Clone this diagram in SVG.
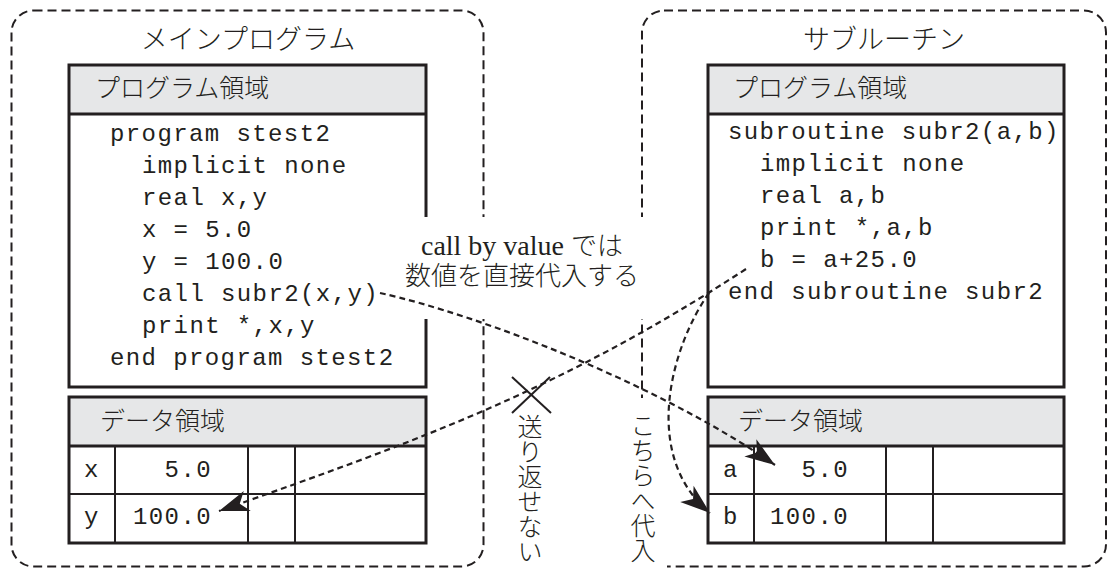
<svg xmlns="http://www.w3.org/2000/svg" width="1108" height="570" viewBox="0 0 1108 570">
<style>
.outer{fill:none;stroke:#231f20;stroke-width:2;stroke-dasharray:9 5}
.box{fill:none;stroke:#231f20;stroke-width:3}
.hdr{fill:#e6e7e8;stroke:none}
.thick{stroke:#231f20;stroke-width:3}
.thin{stroke:#231f20;stroke-width:2}
.jp{font-family:"Noto Sans CJK JP","Noto Sans",sans-serif;font-weight:300;fill:#231f20}
.title{font-size:27px;text-anchor:middle}
.hd{font-size:25px}
.code{font-family:"Liberation Mono","Courier New",monospace;font-size:24px;letter-spacing:1.4px;fill:#231f20}
.conn{fill:none;stroke:#231f20;stroke-width:2.2;stroke-dasharray:6 4}
.vert{font-size:25px;writing-mode:vertical-rl;text-orientation:upright}
</style>
<defs>
<marker id="arrow" markerUnits="userSpaceOnUse" viewBox="-32 -12 34 24" refX="0" refY="0" markerWidth="34" markerHeight="24" orient="auto">
<path d="M0,0 L-30,-10.5 L-22,0 L-30,10.5 Z" fill="#231f20"/>
</marker>
</defs>
<rect width="1108" height="570" fill="#ffffff"/>

<g id="main-program">
<rect class="outer" x="11.5" y="10.5" width="472" height="556" rx="22"/>
<text class="jp title" x="248" y="49">メインプログラム</text>
</g>
<g id="subroutine">
<rect class="outer" x="642" y="10.5" width="464" height="556" rx="22"/>
<text class="jp title" x="884" y="49">サブルーチン</text>
</g>

<g id="main-program-area">
<rect class="hdr" x="69" y="65" width="357" height="49"/>
<line class="thick" x1="69" y1="114" x2="426" y2="114"/>
<rect class="box" x="69" y="65" width="357" height="322"/>
<text class="jp hd" x="95" y="97">プログラム領域</text>
<text class="code" x="110" y="141">program stest2</text>
<text class="code" x="142" y="173">implicit none</text>
<text class="code" x="142" y="205">real x,y</text>
<text class="code" x="142" y="237">x = 5.0</text>
<text class="code" x="142" y="269">y = 100.0</text>
<text class="code" x="142" y="301">call subr2(x,y)</text>
<text class="code" x="142" y="333">print *,x,y</text>
<text class="code" x="110" y="365">end program stest2</text>
</g>

<g id="main-data-area">
<rect class="hdr" x="69" y="397" width="357" height="49"/>
<line class="thick" x1="69" y1="446" x2="426" y2="446"/>
<line class="thin" x1="69" y1="494" x2="426" y2="494"/>
<line class="thin" x1="115" y1="446" x2="115" y2="543"/>
<line class="thin" x1="248" y1="446" x2="248" y2="543"/>
<line class="thin" x1="295" y1="446" x2="295" y2="543"/>
<rect class="box" x="69" y="397" width="357" height="146"/>
<text class="jp hd" x="100" y="430">データ領域</text>
<text class="code" x="92" y="477" text-anchor="middle">x</text>
<text class="code" x="212" y="477" text-anchor="end">5.0</text>
<text class="code" x="92" y="524" text-anchor="middle">y</text>
<text class="code" x="212" y="524" text-anchor="end">100.0</text>
</g>

<g id="sub-program-area">
<rect class="hdr" x="708" y="65" width="356" height="49"/>
<line class="thick" x1="708" y1="114" x2="1064" y2="114"/>
<rect class="box" x="708" y="65" width="356" height="322"/>
<text class="jp hd" x="733" y="97">プログラム領域</text>
<text class="code" x="728" y="139">subroutine subr2(a,b)</text>
<text class="code" x="760" y="171">implicit none</text>
<text class="code" x="760" y="203">real a,b</text>
<text class="code" x="760" y="235">print *,a,b</text>
<text class="code" x="760" y="267">b = a+25.0</text>
<text class="code" x="728" y="299">end subroutine subr2</text>
</g>

<g id="sub-data-area">
<rect class="hdr" x="708" y="397" width="356" height="49"/>
<line class="thick" x1="708" y1="446" x2="1064" y2="446"/>
<line class="thin" x1="708" y1="494" x2="1064" y2="494"/>
<line class="thin" x1="754" y1="446" x2="754" y2="543"/>
<line class="thin" x1="886" y1="446" x2="886" y2="543"/>
<line class="thin" x1="933" y1="446" x2="933" y2="543"/>
<rect class="box" x="708" y="397" width="356" height="146"/>
<text class="jp hd" x="738" y="430">データ領域</text>
<text class="code" x="731" y="477" text-anchor="middle">a</text>
<text class="code" x="849" y="477" text-anchor="end">5.0</text>
<text class="code" x="731" y="524" text-anchor="middle">b</text>
<text class="code" x="849" y="524" text-anchor="end">100.0</text>
</g>

<g id="label-backgrounds">
<rect x="405" y="217" width="250" height="102" fill="#ffffff"/>
<rect x="627" y="398" width="40" height="172" fill="#ffffff"/>
</g>

<g id="connectors">
<path class="conn" d="M380,293 C480,315 660,385 775,465" marker-end="url(#arrow)"/>
<path class="conn" d="M746,269 C560,390 420,440 219,511" marker-end="url(#arrow)"/>
<path class="conn" d="M709,293 C672,345 640,455 710,513" marker-end="url(#arrow)"/>
<g id="no-return-mark" stroke="#231f20" stroke-width="2">
<line x1="512" y1="377" x2="551" y2="413"/>
<line x1="550" y1="377" x2="512" y2="413"/>
</g>
</g>

<g id="call-by-value-label">
<text x="522" y="255" text-anchor="middle" fill="#231f20"><tspan font-family="Liberation Serif, serif" font-size="28">call by value </tspan><tspan font-family="Noto Sans CJK JP, sans-serif" font-weight="300" font-size="26">では</tspan><tspan x="522" dy="30" font-family="Noto Sans CJK JP, sans-serif" font-weight="300" font-size="26">数値を直接代入する</tspan></text>
</g>
<g id="no-return-label">
<text class="jp vert" x="530" y="414">送り返せない</text>
</g>
<g id="assign-label">
<text class="jp vert" x="643" y="413">こちらへ代入</text>
</g>
</svg>
